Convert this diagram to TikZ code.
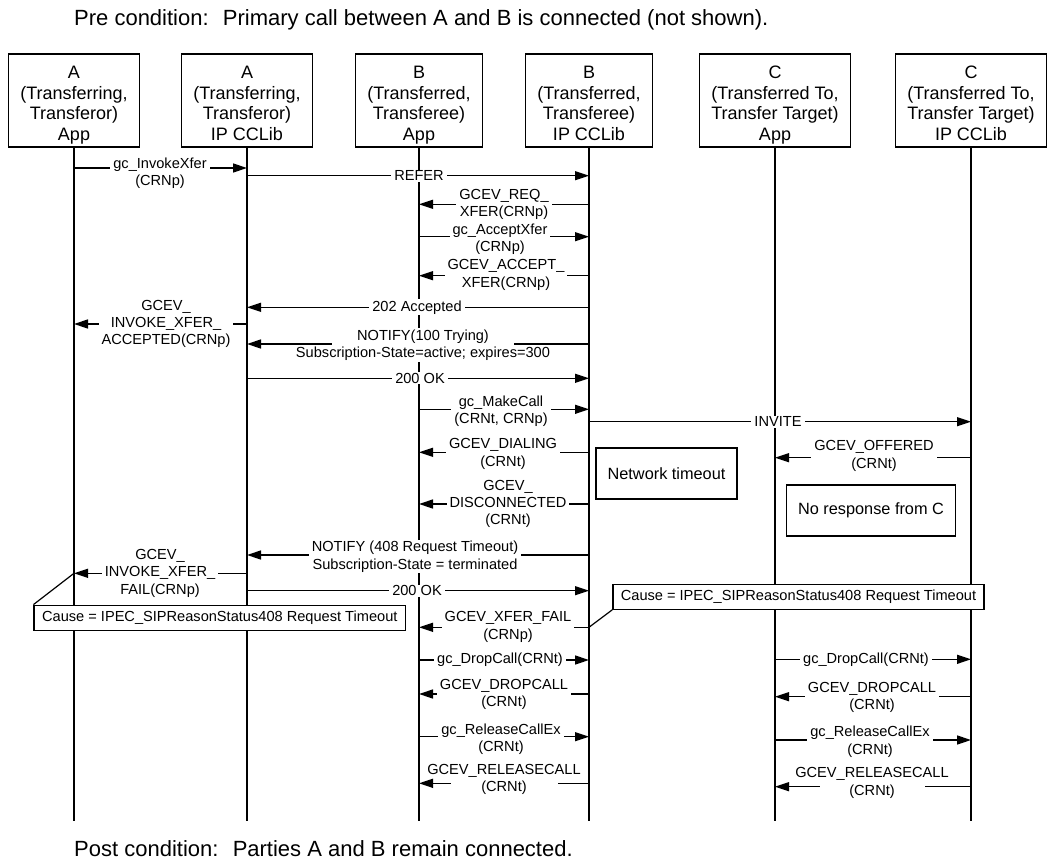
\documentclass[tikz,border=0pt]{standalone}
\usepackage{fontspec}
\setmainfont{Liberation Sans}
\usetikzlibrary{arrows.meta}

\definecolor{linecolor}{RGB}{0,0,0}
\definecolor{notefill}{RGB}{255,255,255}

% text that may stick out of its white label box
\newcommand{\overhang}[1]{\makebox[0pt]{#1}}

% one message: [label options]{name}{from}{to}{arrow y}{label position}{label}
\newcommand{\callmsg}[7][]{%
    \draw[msg] (#3.south |- 0,#5) -- (#4.south |- 0,#5);
    \node[msglabel,#1] (#2) at (#6) {#7};
}

\tikzset{
    condtext/.style={anchor=base west, inner sep=0pt, font=\fontsize{22}{26}\selectfont},
    partybox/.style={draw=linecolor, line width=1.5pt, align=center, inner xsep=12pt,
        inner ysep=0pt, text height=84pt, text depth=4pt, minimum height=93pt,
        font=\fontsize{18}{20.7}\selectfont},
    lifeline/.style={draw=linecolor, line width=1.5pt},
    msg/.style={draw=linecolor, line width=1.4pt, -{Triangle[length=14pt,width=9pt]}},
    msglabel/.style={fill=white, align=center, inner xsep=3pt, inner ysep=1pt,
        font=\fontsize{14.6}{17.4}\selectfont},
    notebox/.style={draw=linecolor, line width=1.4pt, fill=notefill, inner xsep=11.5pt,
        minimum height=51pt, font=\fontsize{16.3}{19}\selectfont},
    causebox/.style={draw=linecolor, line width=1.4pt, fill=notefill, inner xsep=8pt,
        minimum height=25pt, font=\fontsize{14.6}{17.4}\selectfont},
    noteline/.style={draw=linecolor, line width=1.2pt},
}

\begin{document}
\begin{tikzpicture}[x=1pt, y=-1pt]
    \useasboundingbox (0,0) rectangle (1048,861);

    % Conditions above and below
    \node[condtext] (pre) at (74,26) {Pre condition:~ Primary call between A and B is connected (not shown).};
    \node[condtext] (post) at (74,856) {Post condition:~ Parties A and B remain connected.};

    % The six parties
    \node[partybox] (aapp) at (74,100.5) {A\\(Transferring,\\Transferor)\\App};
    \node[partybox] (alib) at (247,100.5) {A\\(Transferring,\\Transferor)\\IP CCLib};
    \node[partybox] (bapp) at (419,100.5) {B\\(Transferred,\\Transferee)\\App};
    \node[partybox] (blib) at (589,100.5) {B\\(Transferred,\\Transferee)\\IP CCLib};
    \node[partybox] (capp) at (775,100.5) {C\\(Transferred To,\\Transfer Target)\\App};
    \node[partybox] (clib) at (971,100.5) {C\\(Transferred To,\\Transfer Target)\\IP CCLib};

    % Lifelines
    \foreach \p in {aapp,alib,bapp,blib,capp,clib} {
        \coordinate (\p-end) at (\p.south |- 0,821);
        \draw[lifeline] (\p.south) -- (\p-end);
    }

    % Transfer request and acceptance
    \callmsg{invokexfer}{aapp}{alib}{168}{160,173.5}{gc\_InvokeXfer\\(CRNp)}
    \callmsg{refer}{alib}{blib}{175.7}{419,175.7}{REFER}
    \callmsg{reqxfer}{blib}{bapp}{204.3}{504,204.4}{GCEV\_REQ\_\\XFER(CRNp)}
    \callmsg{acceptxfer}{bapp}{blib}{236.7}{500,239}{gc\_AcceptXfer\\(CRNp)}
    \callmsg{acceptev}{blib}{bapp}{275.7}{506,275}{GCEV\_ACCEPT\_\\XFER(CRNp)}
    \callmsg{accepted}{blib}{alib}{307.3}{417,307.3}{202 Accepted}
    \callmsg{invokeok}{alib}{aapp}{324}{166,324}{GCEV\_\\INVOKE\_XFER\_\\ACCEPTED(CRNp)}
    \callmsg[minimum width=182pt]{notifytry}{blib}{alib}{344}{423,345}{\overhang{NOTIFY(100 Trying)}\\\overhang{Subscription-State=active; expires=300}}
    \callmsg{okfirst}{alib}{blib}{378.3}{420,378.3}{200 OK}

    % Call to C, which times out
    \callmsg{makecall}{bapp}{blib}{409.3}{501,411}{gc\_MakeCall\\(CRNt, CRNp)}
    \callmsg{invite}{blib}{clib}{421.7}{778,421.7}{INVITE}
    \callmsg{dialing}{blib}{bapp}{452.3}{503,454}{GCEV\_DIALING\\(CRNt)}
    \callmsg{offered}{clib}{capp}{457.7}{874,456}{GCEV\_OFFERED\\(CRNt)}
    \callmsg{disconn}{blib}{bapp}{504}{508,504}{GCEV\_\\DISCONNECTED\\(CRNt)}
    \callmsg{notifyfail}{blib}{alib}{555}{415,556.7}{NOTIFY (408 Request Timeout)\\Subscription-State = terminated}
    \callmsg{invokefail}{alib}{aapp}{573.3}{160,573.3}{GCEV\_\\INVOKE\_XFER\_\\FAIL(CRNp)}
    \callmsg{oksecond}{alib}{blib}{590.7}{417,590.7}{200 OK}
    \callmsg{xferfail}{blib}{bapp}{627.3}{508,627}{GCEV\_XFER\_FAIL\\(CRNp)}

    % Clean up on B and C
    \callmsg{dropb}{bapp}{blib}{660}{500,660}{gc\_DropCall(CRNt)}
    \callmsg{dropc}{capp}{clib}{659.3}{866,659.3}{gc\_DropCall(CRNt)}
    \callmsg{dropevb}{blib}{bapp}{694}{504,694.7}{GCEV\_DROPCALL\\(CRNt)}
    \callmsg{dropevc}{clib}{capp}{696.7}{872,697.5}{GCEV\_DROPCALL\\(CRNt)}
    \callmsg{releaseb}{bapp}{blib}{736.7}{501,739}{gc\_ReleaseCallEx\\(CRNt)}
    \callmsg{releasec}{capp}{clib}{740}{870,741.7}{gc\_ReleaseCallEx\\(CRNt)}
    \callmsg[minimum width=107pt]{releaseevb}{blib}{bapp}{783.3}{504,779.7}{\overhang{GCEV\_RELEASECALL}\\(CRNt)}
    \callmsg[minimum width=105pt]{releaseevc}{clib}{capp}{786.7}{872,783}{\overhang{GCEV\_RELEASECALL}\\(CRNt)}

    % Notes
    \node[notebox] (timeout) at (666.5,473.5) {Network timeout};
    \node[notebox] (noanswer) at (871,510.5) {No response from C};
    \node[causebox] (causea) at (219.8,617.8) {Cause = IPEC\_SIPReasonStatus408 Request Timeout};
    \node[causebox] (causeb) at (798.5,596.7) {Cause = IPEC\_SIPReasonStatus408 Request Timeout};
    \coordinate (failtip) at (aapp.south |- 0,573.3);
    \coordinate (failstart) at (blib.south |- 0,627.3);
    \draw[noteline] (causea.north west) -- (failtip);
    \draw[noteline] (causeb.south west) -- (failstart);
\end{tikzpicture}
\end{document}
